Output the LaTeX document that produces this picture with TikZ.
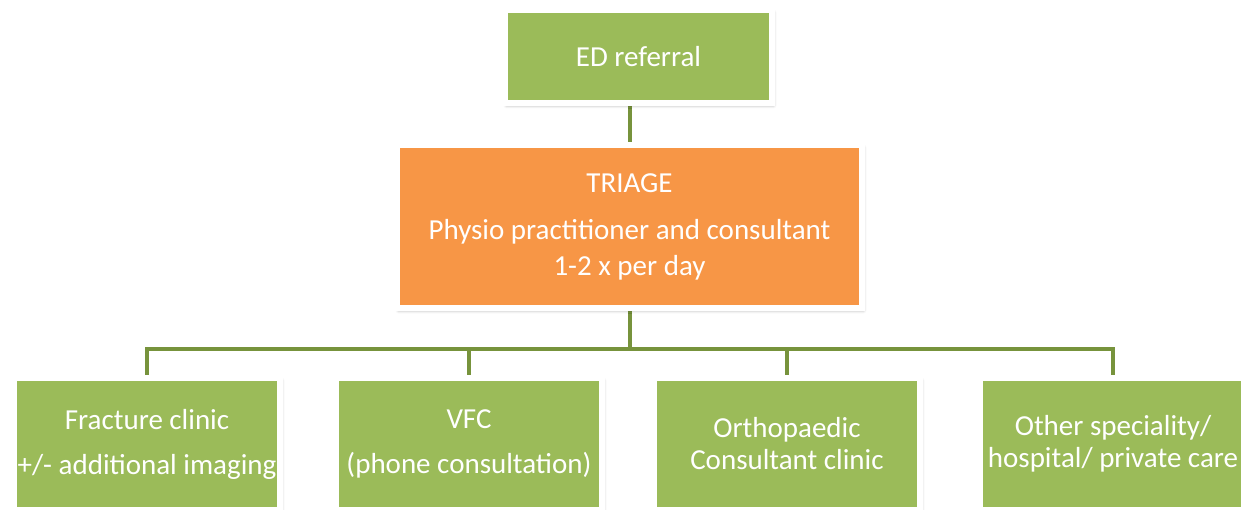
\documentclass[tikz,border=0pt]{standalone}
\usepackage{fontspec}
\setmainfont{Carlito}
\usetikzlibrary{shadows.blur,backgrounds}
\definecolor{boxgreen}{HTML}{9BBB59}
\definecolor{boxorange}{HTML}{F79646}
\definecolor{linkgreen}{HTML}{77933C}
\begin{document}
\begin{tikzpicture}[x=1pt,y=-1pt,
  card/.style={draw=white, line width=6pt, text=white, align=center,
    inner sep=0pt, outer sep=0pt,
    font=\fontsize{29}{32}\selectfont,
    blur shadow={shadow xshift=1.5pt, shadow yshift=-2.5pt,
      shadow blur radius=3pt, shadow opacity=35}},
  greencard/.style={card, fill=boxgreen},
  orangecard/.style={card, fill=boxorange},
  leafcard/.style={greencard, minimum width=266pt, minimum height=132pt},
  link/.style={draw=linkgreen, line width=4pt, line join=miter}]
\useasboundingbox (0,0) rectangle (1241,510);

% top of the tree
\node[greencard, minimum width=267pt, minimum height=93pt] (ed) at (638.5,56.5) {ED referral};
\node[orangecard, minimum width=465pt, minimum height=163pt] (triage) at (629.5,226.5)
  {TRIAGE\\[15pt]Physio practitioner and consultant\\[4pt]1-2 x per day};

% outcomes of triage
\node[leafcard] (fracture) at (147,444) {Fracture clinic\\[13pt]+/- additional imaging};
\node[leafcard] (vfc) at (469,444) {VFC\\[13pt](phone consultation)};
\node[leafcard] (ortho) at (787,444) {Orthopaedic\\Consultant clinic};
\node[leafcard] (other) at (1113,444) {Other speciality/\\hospital/ private care};

% connectors behind the cards
\begin{scope}[on background layer]
  \draw[link] (triage.north) -- (triage.north |- ed.south);
  \draw[link] (triage.south) -- ++(0,41) coordinate (bus);
  \draw[link] (fracture.north) |- (bus) -| (other.north);
  \draw[link] (vfc.north) -- (vfc.north |- bus);
  \draw[link] (ortho.north) -- (ortho.north |- bus);
\end{scope}
\end{tikzpicture}
\end{document}
